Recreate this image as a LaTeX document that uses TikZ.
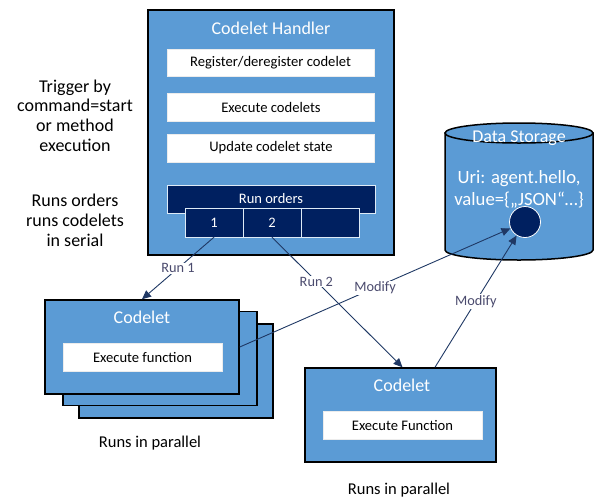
\documentclass[tikz,border=0pt]{standalone}
\usepackage{fontspec}
\setmainfont{Carlito}
\usetikzlibrary{arrows.meta}
\definecolor{boxblue}{HTML}{5B9BD5}
\definecolor{navy}{HTML}{002060}
\definecolor{linenavy}{HTML}{1F3864}
\definecolor{labelgray}{HTML}{4B4B6E}

\tikzset{
    blue box/.style={draw=black, fill=boxblue, line width=1.5pt, inner sep=0},
    white box/.style={draw=white!85!gray, fill=white, inner sep=0, font=\fontsize{14.6}{17}\selectfont},
    dark box/.style={draw=white!80!boxblue, fill=navy, text=white, inner sep=0, font=\fontsize{14.5}{17}\selectfont},
    title/.style={text=white, inner sep=0, font=\fontsize{18}{21}\selectfont},
    note/.style={align=center, inner sep=0, font=\fontsize{18}{19.7}\selectfont},
    link/.style={draw=linenavy, line width=0.9pt},
    arrow/.style={link, -{Triangle[length=9pt,width=8pt]}},
    tag/.style={fill=white, text=labelgray, inner sep=1pt, font=\fontsize{14.3}{16}\selectfont}
    }

\begin{document}
\begin{tikzpicture}[x=1pt, y=-1pt]
    \useasboundingbox (0,0) rectangle (595,499);

    % codelet handler
    \node(handler)[blue box, minimum width=246, minimum height=245] at (271,132.5) {};
    \node(htitle)[title] at (271,28) {Codelet Handler};
    \node(reg)[white box, minimum width=207, minimum height=27] at (270.5,62.5) {Register/deregister codelet};
    \node(exec)[white box, minimum width=207, minimum height=28] at (271,107) {Execute codelets};
    \node(upd)[white box, minimum width=207, minimum height=28] at (271,148) {Update codelet state};
    \node(orders)[dark box, minimum width=208, minimum height=28] at (271,199) {Run orders};
    \node(sub1)[dark box, minimum width=58, minimum height=29] at (214,222.5) {1};
    \node(sub2)[dark box, minimum width=58, minimum height=29] at (272,222.5) {2};
    \node(sub3)[dark box, minimum width=58, minimum height=29] at (330,222.5) {};

    % notes on the left
    \node(trigger)[note] at (75,115.5) {Trigger by\\command=start\\or method\\execution};
    \node(serial)[note] at (75,220.5) {Runs orders\\runs codelets\\in serial};

    % data storage
    \filldraw[fill=boxblue, draw=black, line width=1.5pt]
        (445,133) -- (445,250) arc[start angle=180, end angle=360, x radius=74pt, y radius=10pt]
        -- (593,133) -- cycle;
    \filldraw[fill=boxblue, draw=black, line width=1.5pt] (519,133) ellipse[x radius=74pt, y radius=10pt];
    \node(stitle)[title] at (519,138) {Data Storage};
    \node(uri)[title, align=center, font=\fontsize{18.7}{22}\selectfont] at (519,189) {Uri: agent.hello,\\value=\{„JSON“…\}};
    \node(dot)[circle, fill=navy, draw=white, line width=0.8pt, minimum size=31] at (525,222) {};

    % codelets run by order 1
    \node(back2)[blue box, minimum width=194, minimum height=94] at (176,371) {};
    \node(back1)[blue box, minimum width=194, minimum height=94] at (160,358.5) {};
    \node(code1)[blue box, minimum width=194, minimum height=94] at (142,347) {};
    \node(c1title)[title] at (142,317) {Codelet};
    \node(c1fun)[white box, minimum width=159, minimum height=28] at (142.5,357) {Execute function};
    \node(par1)[note, font=\fontsize{16.5}{19.7}\selectfont] at (150,443) {Runs in parallel};

    % codelet run by order 2
    \node(code2)[blue box, minimum width=191, minimum height=94] at (400.5,415) {};
    \node(c2title)[title] at (402,385) {Codelet};
    \node(c2fun)[white box, minimum width=159, minimum height=28] at (402.5,425) {Execute Function};
    \node(par2)[note, font=\fontsize{16.5}{19.7}\selectfont] at (399,490) {Runs in parallel};

    % connectors
    \draw[arrow] (sub1.south) -- node[tag, pos=0.5]{Run 1} (code1.north);
    \draw[arrow] (sub2.south) -- node[tag, pos=0.34]{Run 2} ([xshift=2pt]code2.north);
    \draw[arrow] (code1.east) -- node[tag, pos=0.5]{Modify} (dot);
    \draw[arrow] ([xshift=34.5pt]code2.north) -- node[tag, pos=0.5]{Modify} (dot);
\end{tikzpicture}
\end{document}
